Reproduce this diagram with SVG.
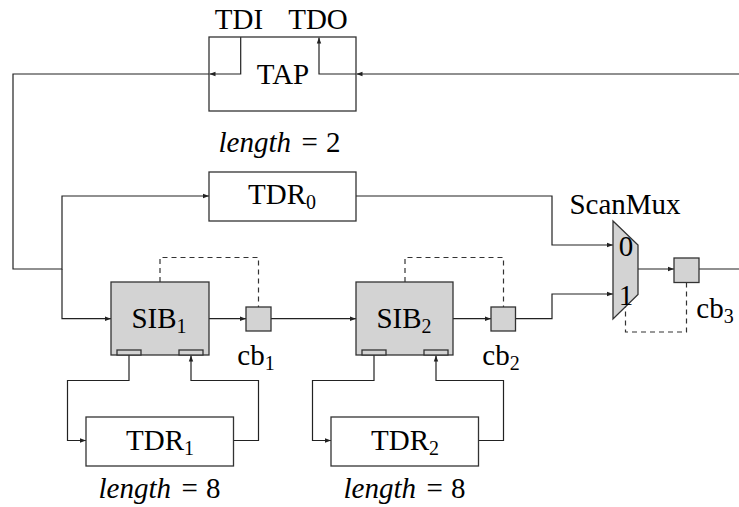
<svg xmlns="http://www.w3.org/2000/svg" width="739" height="507" viewBox="0 0 739 507">
<defs>
<style>
.box{fill:#fff;stroke:#333;stroke-width:1.3}
.gbox{fill:#d3d3d3;stroke:#333;stroke-width:1.3}
.ln{fill:none;stroke:#222;stroke-width:1.2}
.arr{marker-end:url(#ah)}
.dash{fill:none;stroke:#333;stroke-width:1.2;stroke-dasharray:5,4}
text{font-family:"Liberation Serif","Times New Roman",serif;font-size:29px;fill:#000;text-anchor:middle}
.len{text-anchor:start}
.it{font-style:italic}
.sub{font-size:20px}
</style>
<marker id="ah" viewBox="0 0 6 6" refX="6" refY="3" markerWidth="6" markerHeight="6" markerUnits="userSpaceOnUse" orient="auto">
<path d="M0,0.8 L6,3 L0,5.2 Z" fill="#222"/>
</marker>
</defs>

<g id="connectors">
<path class="ln arr" d="M240.7,37 V74 H209.5"/>
<path class="ln arr" d="M209,74 H13 V269 H62 V196 H209"/>
<path class="ln arr" d="M62,269 V318.7 H111"/>
<path class="ln arr" d="M739,74 H356.5"/>
<path class="ln arr" d="M356,74 H319 V37.5"/>
<path class="ln arr" d="M356,196 H552 V245 H613"/>
<path class="ln arr" d="M209,318.7 H246"/>
<path class="ln arr" d="M271,318.7 H356"/>
<path class="ln arr" d="M453,318.7 H491"/>
<path class="ln arr" d="M515.5,318.7 H552 V294 H613"/>
<path class="ln arr" d="M638,269 H674"/>
<path class="ln" d="M699,269 H739"/>
<path class="ln arr" d="M129,355 V380.5 H67.5 V440.5 H86"/>
<path class="ln arr" d="M233.5,440.5 H258.5 V380.5 H191 V355.5"/>
<path class="ln arr" d="M374,355 V380.5 H312.5 V440.5 H331"/>
<path class="ln arr" d="M478.5,440.5 H503.5 V380.5 H436 V355.5"/>
<path class="dash" d="M160,282 V257.5 H258.5 V307"/>
<path class="dash" d="M405,282 V257.5 H503.5 V307"/>
<path class="dash" d="M686.5,282.5 V332 H625.5 V306"/>
</g>

<g id="tap">
<rect class="box" x="209" y="37" width="147" height="74" style="fill:none"/>
<text x="283" y="84">TAP</text>
<text x="239" y="28.5">TDI</text>
<text x="318" y="28.5">TDO</text>
<text class="len" y="152"><tspan class="it" x="218.5">length</tspan><tspan x="301.5">=</tspan><tspan x="326">2</tspan></text>
</g>

<g id="tdr0">
<rect class="box" x="209" y="172" width="147" height="49"/>
<text x="282" y="204">TDR<tspan class="sub" dy="5">0</tspan></text>
</g>

<g id="sib1">
<rect class="gbox" x="111" y="282" width="98" height="73"/>
<rect class="gbox" x="117" y="350" width="24" height="5"/>
<rect class="gbox" x="179" y="350" width="24" height="5"/>
<text x="159" y="328">SIB<tspan class="sub" dy="5">1</tspan></text>
</g>

<g id="cb1">
<rect class="gbox" x="246" y="307" width="25" height="24"/>
<text x="256" y="365">cb<tspan class="sub" dy="5">1</tspan></text>
</g>

<g id="sib2">
<rect class="gbox" x="356" y="282" width="97" height="73"/>
<rect class="gbox" x="362" y="350" width="24" height="5"/>
<rect class="gbox" x="424" y="350" width="24" height="5"/>
<text x="404" y="328">SIB<tspan class="sub" dy="5">2</tspan></text>
</g>

<g id="cb2">
<rect class="gbox" x="491" y="307" width="24.5" height="24"/>
<text x="501" y="365">cb<tspan class="sub" dy="5">2</tspan></text>
</g>

<g id="tdr1">
<rect class="box" x="86" y="417" width="147.5" height="49"/>
<text x="160" y="450">TDR<tspan class="sub" dy="5">1</tspan></text>
<text class="len" y="498"><tspan class="it" x="98.5">length</tspan><tspan x="181.5">=</tspan><tspan x="206">8</tspan></text>
</g>

<g id="tdr2">
<rect class="box" x="331" y="417" width="147.5" height="49"/>
<text x="405" y="450">TDR<tspan class="sub" dy="5">2</tspan></text>
<text class="len" y="498"><tspan class="it" x="343.5">length</tspan><tspan x="426.5">=</tspan><tspan x="451">8</tspan></text>
</g>

<g id="scanmux">
<polygon class="gbox" points="613,221 638,245 638,294.5 613,319"/>
<text x="626" y="255.5">0</text>
<text x="626" y="305">1</text>
<text x="625" y="214">ScanMux</text>
</g>

<g id="cb3">
<rect class="gbox" x="674" y="258" width="25" height="24.5"/>
<text x="715" y="318">cb<tspan class="sub" dy="5">3</tspan></text>
</g>
</svg>
